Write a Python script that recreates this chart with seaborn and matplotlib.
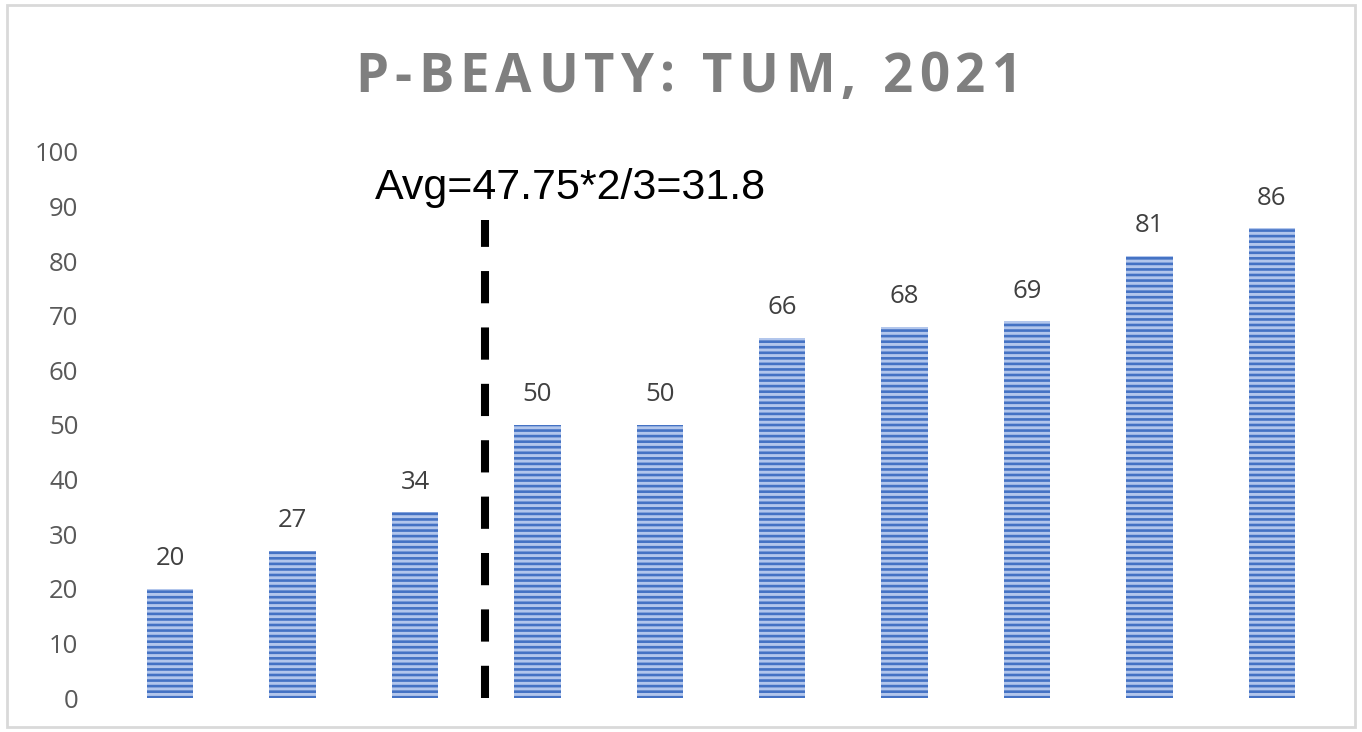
import matplotlib
matplotlib.use("Agg")
import matplotlib.pyplot as plt
import seaborn as sns
import pandas as pd
from matplotlib.patches import Rectangle

# data
categories = [f"c{i}" for i in range(1, 11)]
values = [20, 27, 34, 50, 50, 66, 68, 69, 81, 86]
title = "P-BEAUTY: TUM, 2021"
avg_label = "Avg=47.75*2/3=31.8"
avg_split = 2.57     # dashed line sits between 3rd and 4th bar
avg_line_top = 87.5
y_ticks = list(range(0, 101, 10))

df = pd.DataFrame({"cat": categories, "val": values})

W, H = 1362, 732
sns.set_theme(style="white")
plt.rcParams["font.family"] = ["Open Sans", "DejaVu Sans"]
plt.rcParams["hatch.linewidth"] = 1.9

fig = plt.figure(figsize=(W / 100, H / 100), dpi=100)
ax = fig.add_axes([109 / W, 34 / H, (1333 - 109) / W, (698 - 152) / H])

sns.barplot(data=df, x="cat", y="val", ax=ax, color="#b2c6ec", width=0.38,
            saturation=1)
for bar in ax.patches:
    bar.set_hatch("---")
    bar.set_edgecolor("#4472c4")
    bar.set_linewidth(0)

for i, v in enumerate(values):
    ax.annotate(str(v), (i, v), xytext=(0, 17), textcoords="offset points",
                ha="center", va="baseline", fontsize=18.5, color="#404040")

ax.plot([avg_split, avg_split], [0, avg_line_top], color="black", lw=5.8,
        linestyle=(0, (4, 3)), dash_capstyle="butt")
ax.text(3.27, 93.4, avg_label, ha="center", va="center", fontsize=31,
        family=["Liberation Sans"], color="black")

ax.set_ylim(0, 100)
ax.set_xlim(-0.5, 9.5)
ax.set_yticks(y_ticks)
ax.set_xticks([])
ax.set_xlabel("")
ax.set_ylabel("")
ax.tick_params(axis="y", labelsize=18.5, labelcolor="#595959", length=0, pad=22)
sns.despine(ax=ax, left=True, bottom=True)

# title with wide letter spacing, as in the original
renderer = fig.canvas.get_renderer()
title_kw = dict(fontsize=38, fontweight="bold", color="#7f7f7f", va="baseline")
chars = [fig.text(0, 0, ch, **title_kw) for ch in title]
widths = [t.get_window_extent(renderer).width for t in chars]
target_w = 1022 - 355
gap = (target_w - sum(widths)) / (len(title) - 1)
x = 355
for t, w in zip(chars, widths):
    t.set_position((x / W, 1 - 92 / H))
    x += w + gap

fig.patches.append(Rectangle((7 / W, 5 / H), 1 - 14 / W, 1 - 10 / H,
                             transform=fig.transFigure, fill=False,
                             edgecolor="#d9d9d9", lw=2))

fig.savefig("out.png", dpi=100)
